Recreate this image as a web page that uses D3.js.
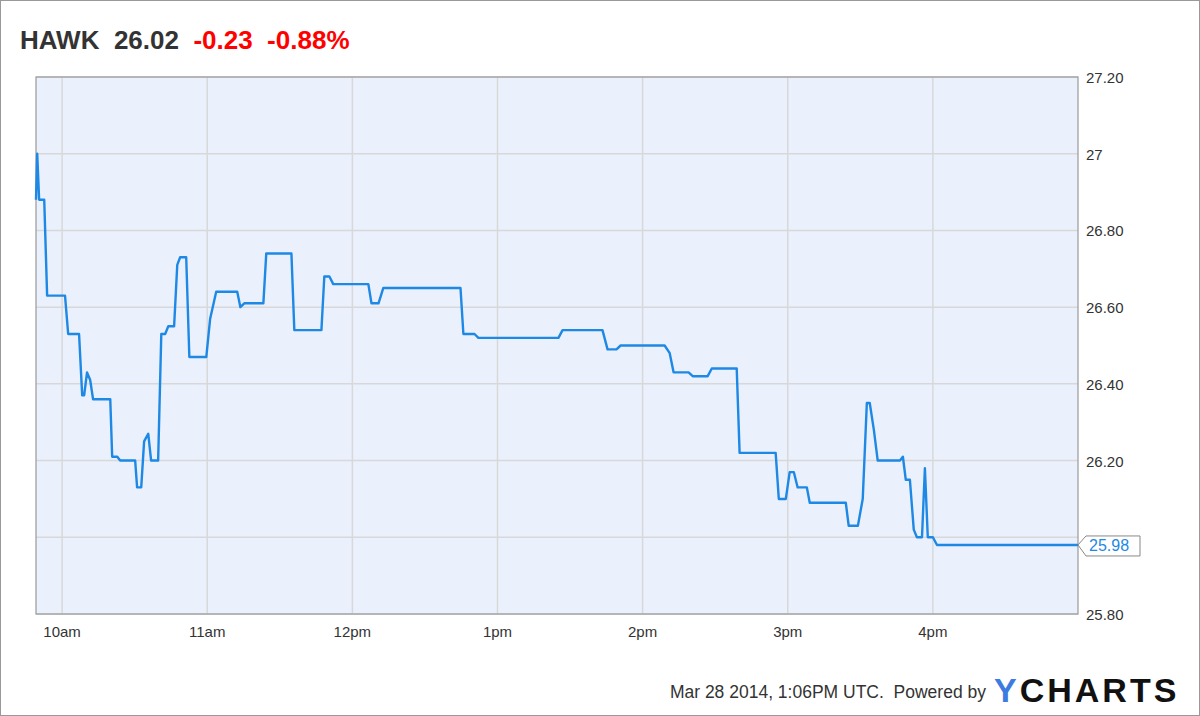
<!DOCTYPE html>
<html><head><meta charset="utf-8">
<script src="https://cdn.jsdelivr.net/npm/d3@7"></script>
<style>body{margin:0;background:#fff;font-family:"Liberation Sans",Arial,sans-serif}</style>
</head><body><svg id="c" width="1200" height="716"></svg>
<script>
// minutes after 10:00am
var mins = [-10.8,-10.3,-9.5,-7.4,-6.2,1.2,2.5,7.0,8.3,9.1,10.3,11.6,12.8,19.9,20.7,22.8,24.0,30.2,31.0,32.7,33.9,35.6,36.8,39.7,41.0,42.6,43.9,46.3,47.6,48.8,51.3,52.6,59.6,61.2,63.7,72.4,73.7,75.3,83.2,84.4,94.8,96.0,107.2,108.4,110.5,112.1,126.6,127.9,130.8,132.8,164.7,165.9,170.5,172.1,205.2,206.9,223.4,225.5,229.2,230.9,249.1,251.2,252.8,259.0,260.7,266.9,268.6,278.9,280.1,295.0,296.3,299.2,300.8,302.5,304.1,307.9,309.1,324.0,325.2,329.0,331.0,332.7,333.9,335.6,337.2,346.4,347.6,348.8,350.5,352.1,353.4,355.5,356.7,357.9,360,361.7,420];
var prices = [26.88,27.00,26.88,26.88,26.63,26.63,26.53,26.53,26.37,26.37,26.43,26.41,26.36,26.36,26.21,26.21,26.20,26.20,26.13,26.13,26.25,26.27,26.20,26.20,26.53,26.53,26.55,26.55,26.71,26.73,26.73,26.47,26.47,26.57,26.64,26.64,26.60,26.61,26.61,26.74,26.74,26.54,26.54,26.68,26.68,26.66,26.66,26.61,26.61,26.65,26.65,26.53,26.53,26.52,26.52,26.54,26.54,26.49,26.49,26.50,26.50,26.48,26.43,26.43,26.42,26.42,26.44,26.44,26.22,26.22,26.10,26.10,26.17,26.17,26.13,26.13,26.09,26.09,26.03,26.03,26.10,26.35,26.35,26.28,26.20,26.20,26.21,26.15,26.15,26.02,26.00,26.00,26.18,26.00,26.00,25.98,25.98];
var xTicks = [0,60,120,180,240,300,360];
var xLabels = ["10am","11am","12pm","1pm","2pm","3pm","4pm"];
var yTicks = [25.8,26.0,26.2,26.4,26.6,26.8,27.0,27.2];
var yLabels = ["25.80","","26.20","26.40","26.60","26.80","27","27.20"];
var last = 25.98;

var svg = d3.select("#c");
var L = 36, T = 77, R = 1078, B = 614;
var x = d3.scaleLinear().domain([-10.8, 420]).range([L, R]);
var y = d3.scaleLinear().domain([25.8, 27.2]).range([B, T]);

svg.append("rect").attr("x",0.5).attr("y",0.5).attr("width",1199).attr("height",715)
  .attr("fill","#fff").attr("stroke","#999");

svg.append("text").attr("x",20).attr("y",49).attr("font-size",26).attr("fill","#333")
  .attr("font-weight","bold").attr("xml:space","preserve")
  .html('HAWK  26.02  <tspan fill="#f00">-0.23  -0.88%</tspan>');

svg.append("rect").attr("x",L).attr("y",T).attr("width",R-L).attr("height",B-T)
  .attr("fill","#eaf1fd");

svg.selectAll(".hg").data(yTicks).enter().append("line")
  .attr("x1",L).attr("x2",R).attr("y1",function(d){return y(d);}).attr("y2",function(d){return y(d);})
  .attr("stroke","#d8d8d8").attr("stroke-width",1.5);
svg.selectAll(".vg").data(xTicks).enter().append("line")
  .attr("y1",T).attr("y2",B).attr("x1",function(d){return x(d);}).attr("x2",function(d){return x(d);})
  .attr("stroke","#d8d8d8").attr("stroke-width",1.5);

svg.append("rect").attr("x",L).attr("y",T).attr("width",R-L).attr("height",B-T)
  .attr("fill","none").attr("stroke","#999").attr("stroke-width",1.2);

svg.selectAll(".xl").data(xTicks).enter().append("text")
  .attr("x",function(d){return x(d);}).attr("y",B+23).attr("text-anchor","middle")
  .attr("font-size",15).attr("fill","#333").text(function(d,i){return xLabels[i];});
svg.selectAll(".yl").data(yTicks).enter().append("text")
  .attr("x",R+8).attr("y",function(d){return y(d)+6;})
  .attr("font-size",15).attr("fill","#333").text(function(d,i){return yLabels[i];});

var line = d3.line().x(function(d){return x(d[0]);}).y(function(d){return y(d[1]);});
svg.append("path").datum(d3.zip(mins, prices)).attr("d",line)
  .attr("fill","none").attr("stroke","#1e88e5").attr("stroke-width",2.4).attr("stroke-linejoin","round");

// last value flag
var ly = y(last);
svg.append("path").attr("d","M"+R+","+ly+" l8,-9 h54 v20 h-54 z")
  .attr("fill","#fff").attr("stroke","#888").attr("stroke-width",1);
svg.append("text").attr("x",R+11).attr("y",ly+6).attr("font-size",16).attr("fill","#1e88e5").text(last.toFixed(2));

svg.append("text").attr("x",986).attr("y",698).attr("text-anchor","end").attr("font-size",17.5).attr("fill","#333")
  .attr("xml:space","preserve").text("Mar 28 2014, 1:06PM UTC.  Powered by");
svg.append("text").attr("x",994).attr("y",702).attr("font-size",34).attr("font-weight","bold")
  .attr("letter-spacing",3).attr("fill","#111")
  .html('<tspan fill="#3d7be0">Y</tspan>CHARTS');
</script></body></html>
